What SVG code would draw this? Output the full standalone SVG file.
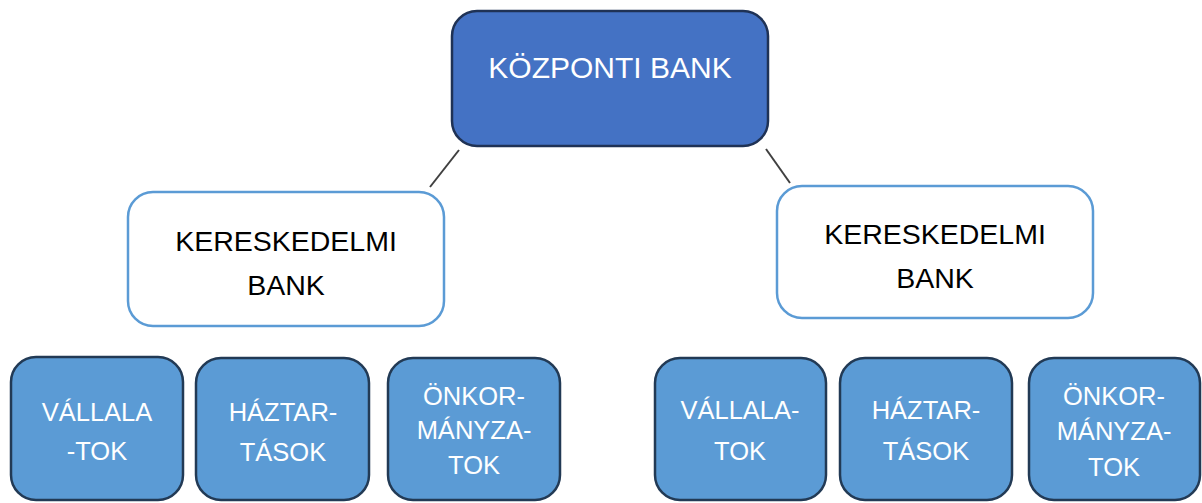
<svg xmlns="http://www.w3.org/2000/svg" width="1202" height="503" viewBox="0 0 1202 503">
<style>
.top{fill:#4472C4;stroke:#1F3255;stroke-width:2.5}
.mid{fill:#FFFFFF;stroke:#5B9BD5;stroke-width:2.5}
.leaf{fill:#5B9BD5;stroke:#223A55;stroke-width:2.5}
.t{font-family:"Liberation Sans",Arial,sans-serif;text-anchor:middle}
.tw{fill:#FFFFFF;font-size:30px}
.tb{fill:#000000;font-size:28.5px}
.tl{fill:#FFFFFF;font-size:25.5px}
.conn{stroke:#404040;stroke-width:2;fill:none}
</style>
<rect width="1202" height="503" fill="#FFFFFF"/>
<g id="connectors">
<line class="conn" x1="459" y1="150" x2="430" y2="187"/>
<line class="conn" x1="766" y1="149" x2="790" y2="183"/>
</g>
<g id="kozponti-bank">
<rect class="top" x="452" y="11" width="316" height="135" rx="25"/>
<text class="t tw" x="610" y="78">KÖZPONTI BANK</text>
</g>
<g id="kereskedelmi-bank-1">
<rect class="mid" x="128" y="192" width="316" height="134" rx="25"/>
<text class="t tb" x="286" y="251">KERESKEDELMI</text>
<text class="t tb" x="286" y="295">BANK</text>
</g>
<g id="kereskedelmi-bank-2">
<rect class="mid" x="777" y="186" width="316" height="132" rx="25"/>
<text class="t tb" x="935" y="244">KERESKEDELMI</text>
<text class="t tb" x="935" y="288">BANK</text>
</g>
<g id="vallalatok-1">
<rect class="leaf" x="11" y="357" width="172" height="143" rx="25"/>
<text class="t tl" x="97" y="421">VÁLLALA</text>
<text class="t tl" x="97" y="460">-TOK</text>
</g>
<g id="haztartasok-1">
<rect class="leaf" x="196" y="358" width="173" height="142" rx="25"/>
<text class="t tl" x="283" y="421">HÁZTAR-</text>
<text class="t tl" x="283" y="461">TÁSOK</text>
</g>
<g id="onkormanyzatok-1">
<rect class="leaf" x="388" y="358" width="172" height="142" rx="25"/>
<text class="t tl" x="474" y="405">ÖNKOR-</text>
<text class="t tl" x="474" y="439">MÁNYZA-</text>
<text class="t tl" x="474" y="474">TOK</text>
</g>
<g id="vallalatok-2">
<rect class="leaf" x="655" y="358" width="171" height="142" rx="25"/>
<text class="t tl" x="740" y="419">VÁLLALA-</text>
<text class="t tl" x="740" y="460">TOK</text>
</g>
<g id="haztartasok-2">
<rect class="leaf" x="840" y="358" width="172" height="142" rx="25"/>
<text class="t tl" x="926" y="419">HÁZTAR-</text>
<text class="t tl" x="926" y="460">TÁSOK</text>
</g>
<g id="onkormanyzatok-2">
<rect class="leaf" x="1029" y="358" width="171" height="142" rx="25"/>
<text class="t tl" x="1114" y="405">ÖNKOR-</text>
<text class="t tl" x="1114" y="440">MÁNYZA-</text>
<text class="t tl" x="1114" y="476">TOK</text>
</g>
</svg>
